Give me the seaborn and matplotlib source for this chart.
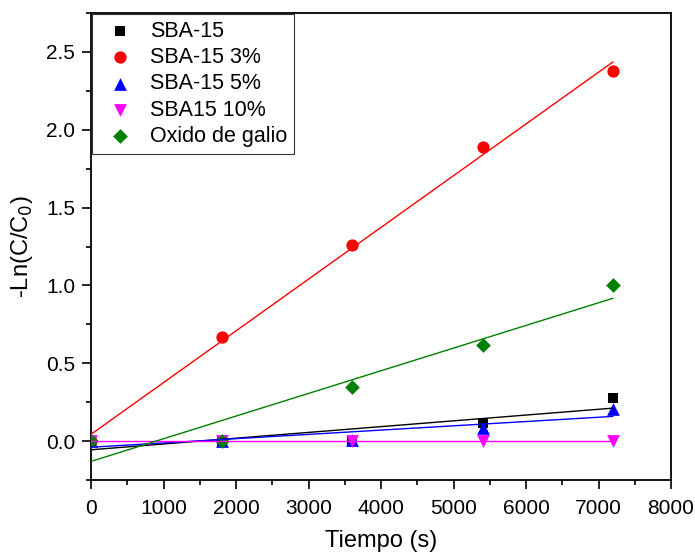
import numpy as np
import pandas as pd
import matplotlib
matplotlib.use("Agg")
import matplotlib.pyplot as plt
import seaborn as sns
from matplotlib.ticker import MultipleLocator

sns.set_style("ticks")
plt.rcParams['font.family'] = ['Liberation Sans', 'DejaVu Sans']
plt.rcParams['text.color'] = 'black'
plt.rcParams['axes.labelcolor'] = 'black'
plt.rcParams['xtick.color'] = 'black'
plt.rcParams['ytick.color'] = 'black'

tiempo = [0, 1800, 3600, 5400, 7200]
sba15 = [0.0, 0.0, 0.0, 0.115, 0.277]
sba15_3 = [0.0, 0.67, 1.26, 1.89, 2.38]
sba15_5 = [0.0, 0.0, 0.01, 0.085, 0.205]
sba15_10 = [0.0, 0.0, 0.0, 0.0, 0.0]
oxido = [0.0, 0.0, 0.35, 0.62, 1.0]

names = ["SBA-15", "SBA-15 3%", "SBA-15 5%", "SBA15 10%", "Oxido de galio"]
series = [sba15, sba15_3, sba15_5, sba15_10, oxido]
colors = ["black", "red", "blue", "magenta", "green"]
markers = ["s", "o", "^", "v", "D"]
sizes = [52, 78, 84, 84, 56]

fig = plt.figure(figsize=(6.95, 5.55), dpi=100)
ax = fig.add_axes([0.131, 0.135, 0.8345, 0.8416])

for i, (name, y, c, m, s) in enumerate(zip(names, series, colors, markers, sizes)):
    df = pd.DataFrame({"t": tiempo, "y": y})
    k, b = np.polyfit(df["t"], df["y"], 1)
    fit = pd.DataFrame({"t": [tiempo[0], tiempo[-1]]})
    fit["y"] = k * fit["t"] + b
    sns.scatterplot(data=df, x="t", y="y", color=c, marker=m, s=s,
                    edgecolor=c, linewidth=0, ax=ax, label=name, zorder=3 + i * 0.1)
    sns.lineplot(data=fit, x="t", y="y", color=c, lw=1.0, ax=ax, legend=False,
                 zorder=4 + i * 0.1)

ax.set_xlim(0, 8000)
ax.set_ylim(-0.25, 2.75)
ax.xaxis.set_major_locator(MultipleLocator(1000))
ax.xaxis.set_minor_locator(MultipleLocator(500))
ax.yaxis.set_major_locator(MultipleLocator(0.5))
ax.yaxis.set_minor_locator(MultipleLocator(0.25))
ax.yaxis.set_major_formatter(matplotlib.ticker.FormatStrFormatter('%.1f'))
ax.tick_params(which='major', length=6.5, width=1.2, labelsize=15,
               color='black', labelcolor='black')
ax.tick_params(which='minor', length=3.5, width=1.2, color='black')
ax.tick_params(axis='x', which='major', pad=7)
ax.tick_params(axis='y', which='major', pad=5)
for sp in ax.spines.values():
    sp.set_linewidth(1.3)
    sp.set_color('black')

ax.set_xlabel("Tiempo (s)", fontsize=17, labelpad=9, color='black')
ax.set_ylabel("-Ln(C/C$_0$)", fontsize=17, labelpad=8, color='black')

leg = ax.legend(loc="upper left", fontsize=15.5, frameon=True, fancybox=False,
                borderaxespad=0.05, handletextpad=0.4, labelspacing=0.25,
                borderpad=0.3, handlelength=2.0)
leg.get_frame().set_edgecolor('black')
leg.get_frame().set_linewidth(0.8)
for t in leg.get_texts():
    t.set_color('black')

fig.savefig("out.png", dpi=100)
